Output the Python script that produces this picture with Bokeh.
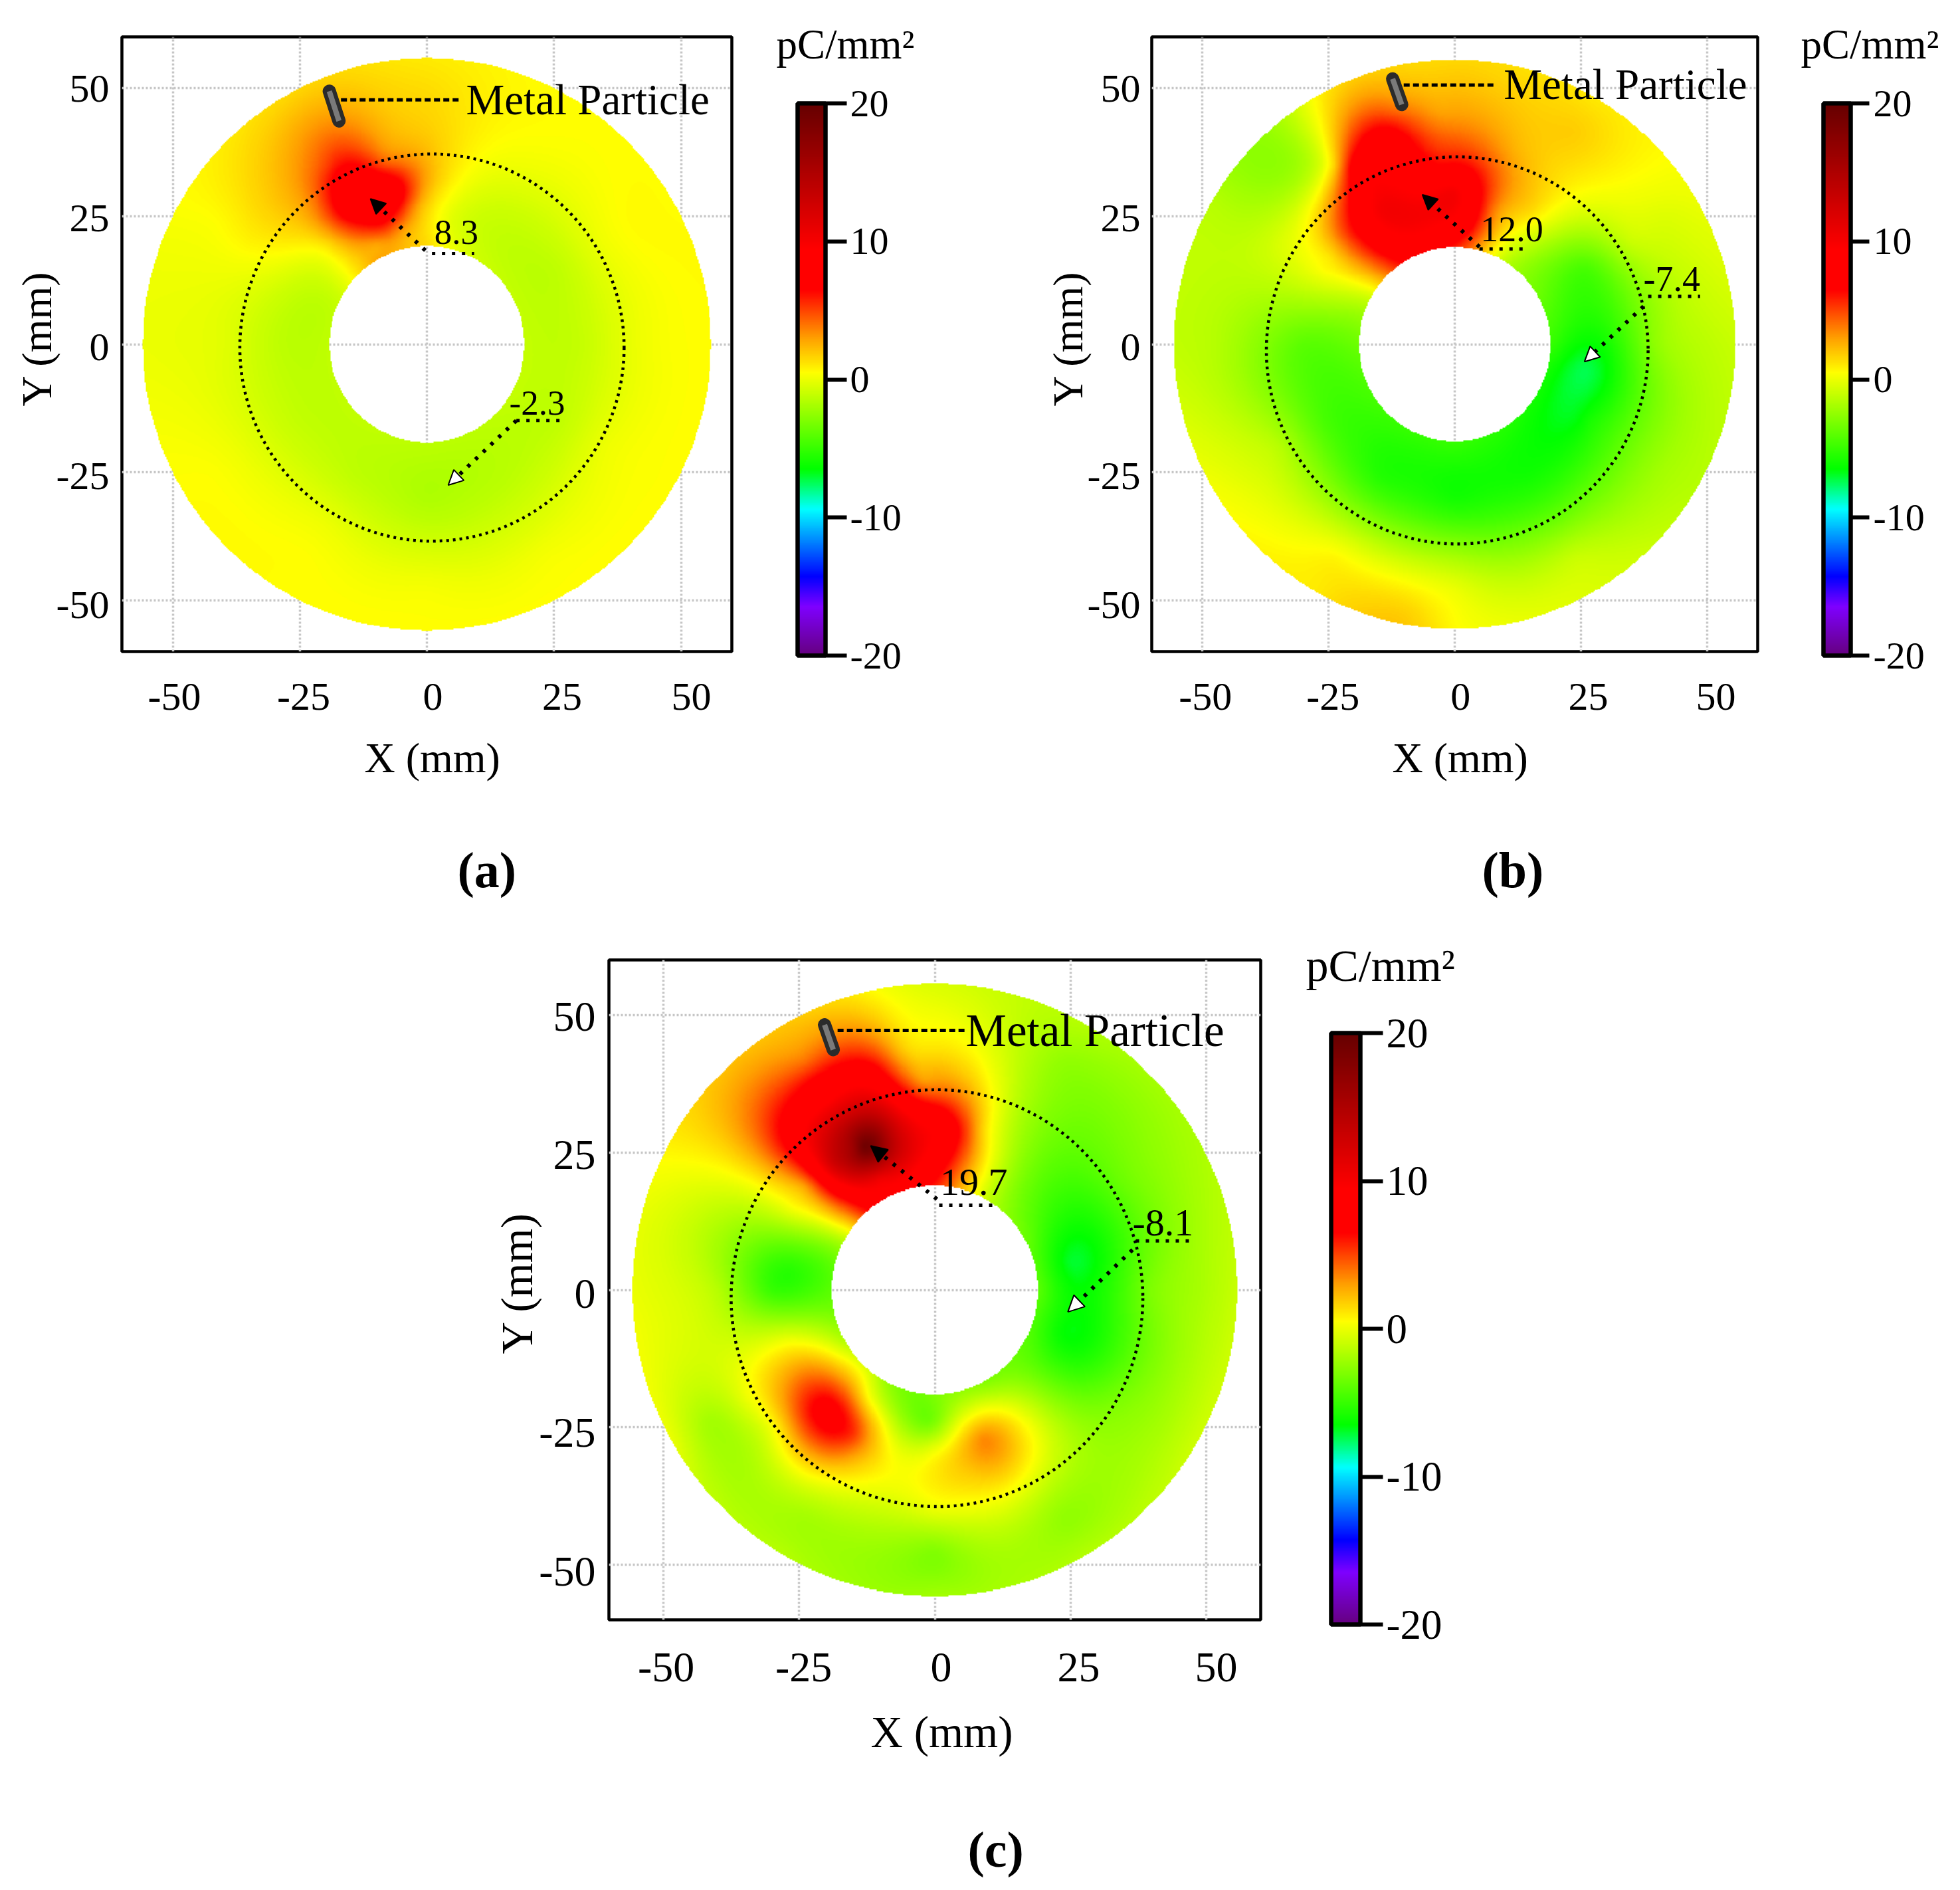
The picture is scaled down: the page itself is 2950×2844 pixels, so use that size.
import numpy as np
from bokeh.embed import file_html
from bokeh.resources import INLINE
from bokeh.layouts import column, row
from bokeh.models import (Arrow, FixedTicker, Grid, Label, LinearAxis, LinearColorMapper,
                          NormalHead, Range1d, Spacer, Title)
from bokeh.plotting import figure

FONT = "Liberation Serif"
ticks_xy = [-50, -25, 0, 25, 50]
ticks_cb = [-20, -10, 0, 10, 20]
labels_xy = {-50: "-50", -25: "-25", 0: "0", 25: "25", 50: "50"}
labels_cb = {-20: "-20", -10: "-10", 0: "0", 10: "10", 20: "20"}

# colour scale
scale_values = [-20, -16.5, -14.3, -9.4, -6.5, 0.5, 3, 6.5, 9.5, 20]
scale_r = [102, 127, 0, 0, 0, 255, 255, 255, 255, 102]
scale_g = [0, 0, 0, 255, 255, 255, 160, 0, 0, 0]
scale_b = [128, 255, 255, 255, 0, 0, 0, 0, 0, 0]

# charge density read on rings of the annulus, angles counter-clockwise from +X
ring_radii = [19, 30, 40, 48, 56]
ring_angles = [0, 30, 60, 90, 120, 150, 180, 210, 240, 270, 300, 330]

a_rings = [
    [-1.1, -1.1, -0.7, 1.5, 3.0, -0.7, -1.2, -1.2, -1.2, -1.3, -1.3, -1.1],
    [-1.1, -1.2, -0.9, 2.5, 8.0, -0.3, -1.2, -1.1, -1.2, -1.7, -1.4, -1.2],
    [-0.1, 0.1, 0.1, 2.0, 5.0, 0.8, -0.3, -0.2, 0.0, -0.6, -0.5, 0.0],
    [0.4, 0.6, 0.5, 1.5, 3.0, 0.5, -0.1, 0.4, 0.5, 0.3, 0.3, 0.4],
    [0.5, 0.5, 0.5, 1.0, 1.5, 0.5, 0.0, 0.5, 0.5, 0.5, 0.5, 0.5],
]
a_extra_x = [-12, -6, -16, -9, -15, -8, -5, -2, -22, -18, -30, -28, -20, -10, 3, 5]
a_extra_y = [28, 30, 32, 24, 23, 36, 22, 27, 28, 38, 28, 20, 19, 19, 32, 24]
a_extra_v = [8.3, 8.0, 8.0, 7.0, 5.5, 4.0, 3.0, 3.0, 4.0, 5.0, 2.0, 1.0, 1.0, 2.5, 1.5, -0.3]

b_rings = [
    [-5.0, -3.5, -1.0, 6.0, 7.0, -0.5, -3.5, -4.5, -5.0, -5.0, -5.5, -6.0],
    [-6.0, -4.5, 1.5, 10.0, 10.0, 0.7, -4.0, -4.5, -5.5, -6.0, -6.0, -6.0],
    [-2.5, -1.0, 1.5, 4.5, 7.5, -0.5, -2.5, -1.5, -2.0, -2.5, -3.5, -3.5],
    [-1.5, -0.5, 1.8, 2.5, 2.0, -1.5, -1.5, -0.5, 0.7, 0.0, -1.0, -2.0],
    [-1.0, 0.0, 1.0, 1.5, 0.5, -1.5, -1.2, 0.2, 1.0, 0.6, -0.5, -1.5],
]
b_extra_x = [-7, -13, -13, -18, -3, 4, 3, 8, -2, -24, -27, -22, -25, -12, 26, 25, -3, 12, -10]
b_extra_y = [29, 33, 40, 26, 35, 30, 24, 26, 22, 35, 30, 22, 17, 46, -5, -15, 45, 38, -53]
b_extra_v = [9.5, 9.0, 8.0, 8.5, 6.5, 7.5, 7.5, 3.5, 8.5, 1.5, 0.5, 5.0, 1.0, 4.0, -7.4, -6.5, 3.0, 2.5, 1.8]

c_rings = [
    [-4.0, -3.5, -1.0, 6.0, 9.0, -1.0, -4.0, -1.5, -2.0, -3.0, -3.0, -4.0],
    [-6.0, -5.5, -2.0, 9.0, 16.0, 0.5, -5.0, 3.0, 5.5, 0.5, 1.5, -5.0],
    [-3.0, -3.5, -2.5, 2.5, 9.0, 0.5, -1.5, 0.0, 0.5, 0.0, -0.8, -3.0],
    [-2.0, -2.5, -2.5, 0.5, 4.0, 0.8, -0.5, -2.0, -2.0, -3.0, -2.5, -2.0],
    [-1.0, -1.8, -1.5, -0.5, 2.0, 1.0, 0.0, 0.0, -1.5, -2.0, -1.5, -0.8],
]
c_extra_x = [-13, -8, -19, -15, -3, 4, 9, -12, -22, -26, -24, -10, -2, 25, 24, -27, -20, -24, -15, -27, 9, 7, -1, -12, 15, -12, -5, -30, -12]
c_extra_y = [26, 28, 23, 32, 29, 29, 29, 40, 38, 27, 19, 20, 38, 5, -8, 3, -22, -14, -30, -9, -27, -33, -24, -15, -20, 46, 44, -25, -20]
c_extra_v = [19.7, 14.0, 12.5, 13.0, 10.0, 7.0, 1.5, 7.5, 7.0, 8.0, 3.0, 10.0, 3.0, -7.0, -6.5, -5.5, 7.5, 3.0, 3.0, 0.0, 3.5, 2.0, -3.5, -0.5, -1.0, 3.5, 1.5, 0.3, 0.5]


def make_field(rings, ex, ey, ev, inner, outer, n=480):
    rr, aa = np.meshgrid(ring_radii, np.radians(ring_angles), indexing="ij")
    px = np.concatenate([(rr * np.cos(aa)).ravel(), ex])
    py = np.concatenate([(rr * np.sin(aa)).ravel(), ey])
    pv = np.concatenate([np.ravel(rings), ev])

    def kernel(d2):
        return 0.5 * d2 * np.log(np.maximum(d2, 1e-9))

    m = len(px)
    K = kernel((px[:, None] - px[None, :]) ** 2 + (py[:, None] - py[None, :]) ** 2)
    P = np.column_stack([np.ones(m), px, py])
    A = np.block([[K + 2.0 * np.eye(m), P], [P.T, np.zeros((3, 3))]])
    w = np.linalg.solve(A, np.concatenate([pv, np.zeros(3)]))
    g = np.linspace(-60, 60, n)
    out = np.zeros((n, n), dtype=np.float32)
    for i, gy in enumerate(g):
        d2 = (g[:, None] - px[None, :]) ** 2 + (gy - py[None, :]) ** 2
        out[i] = kernel(d2) @ w[:m] + w[m] + w[m + 1] * g + w[m + 2] * gy
    rad = np.hypot(*np.meshgrid(g, g))
    out[(rad < inner) | (rad > outer)] = np.nan
    return np.clip(out, -20, 20)


levels = np.linspace(-20, 20, 512)
palette = ["#%02x%02x%02x" % (int(r), int(g), int(b)) for r, g, b in zip(
    np.interp(levels, scale_values, scale_r),
    np.interp(levels, scale_values, scale_g),
    np.interp(levels, scale_values, scale_b))]
mapper = LinearColorMapper(palette=palette, low=-20, high=20, nan_color="rgba(0,0,0,0)")


def txt(p, x, y, s, size, align="left", baseline="middle"):
    p.add_layout(Label(x=x, y=y, text=s, text_font=FONT, text_font_size=f"{size}px",
                       text_align=align, text_baseline=baseline, text_color="black"))


def side_title(p, s, side, size, offset, standoff, weight="normal"):
    p.add_layout(Title(text=s, align="left", offset=offset, standoff=standoff, text_font=FONT,
                       text_font_size=f"{size}px", text_font_style=weight, text_color="black"), side)


def panel(rings, ex, ey, ev, inner, outer, borders, frame, xlab_range, ylab_range,
          xlab_standoff, ylab_standoff, fs_tick, fs_label, fs_metal, fs_val,
          circle, rod, rod_core, leader, metal_xy, hi, lo, xtitle, ytitle, tag, head):
    p = figure(frame_width=frame[0], frame_height=frame[1], min_border_left=borders[0],
               min_border_right=borders[1], min_border_top=borders[2], min_border_bottom=borders[3],
               x_range=Range1d(-60, 60), y_range=Range1d(-60, 60), x_axis_location=None,
               y_axis_location=None, output_backend="svg", toolbar_location=None,
               background_fill_color="white", border_fill_color="white", frame_align=False)
    p.grid.visible = False
    for dim in (0, 1):
        p.add_layout(Grid(dimension=dim, ticker=FixedTicker(ticks=ticks_xy), grid_line_color="#c6c6c6",
                          grid_line_width=3.5, grid_line_dash="3 3"))
    p.extra_x_ranges = {"lab": Range1d(*xlab_range)}
    p.extra_y_ranges = {"lab": Range1d(*ylab_range)}
    xa = LinearAxis(x_range_name="lab", ticker=FixedTicker(ticks=ticks_xy))
    ya = LinearAxis(y_range_name="lab", ticker=FixedTicker(ticks=ticks_xy))
    for ax, st in ((xa, xlab_standoff), (ya, ylab_standoff)):
        ax.axis_line_color = None
        ax.major_tick_line_color = None
        ax.minor_tick_line_color = None
        ax.major_label_standoff = st
        ax.major_label_overrides = labels_xy
        ax.major_label_text_font = FONT
        ax.major_label_text_font_size = f"{fs_tick}px"
        ax.major_label_text_color = "black"
    p.add_layout(xa, "below")
    p.add_layout(ya, "left")
    p.outline_line_color = "black"
    p.outline_line_width = 4.5
    p.outline_line_alpha = 1

    p.image(image=[make_field(rings, np.array(ex, float), np.array(ey, float), np.array(ev, float), inner, outer)],
            x=-60, y=-60, dw=120, dh=120, color_mapper=mapper)
    p.ellipse(x=[circle[0]], y=[circle[1]], width=[2 * circle[2]], height=[2 * circle[2]],
              fill_color=None, line_color="black", line_width=4.5, line_dash="4 6")
    p.line(rod[0], rod[1], line_color="#2b2b2b", line_width=20, line_cap="round")
    p.line(rod_core[0], rod_core[1], line_color="#7a7a7a", line_width=8)
    p.line(leader[0], leader[1], line_color="black", line_width=5, line_dash="9 5")
    txt(p, metal_xy[0], metal_xy[1], "Metal Particle", fs_metal)

    for ann, fill in ((hi, "black"), (lo, "white")):
        p.add_layout(Arrow(end=NormalHead(size=head, fill_color=fill, line_color="black", line_width=2),
                           x_start=ann["start"][0], y_start=ann["start"][1],
                           x_end=ann["tip"][0], y_end=ann["tip"][1],
                           line_color="black", line_width=6, line_dash="5 11"))
        p.line(ann["under_x"], ann["under_y"], line_color="black", line_width=5, line_dash="5 10")
        txt(p, ann["text_xy"][0], ann["text_xy"][1], ann["text"], fs_val, align="center")

    side_title(p, "X (mm)", "below", fs_label, xtitle[0], xtitle[1])
    side_title(p, " ", "below", 1, 0, tag[2])
    side_title(p, tag[0], "below", 76, tag[1], 0, weight="bold")
    side_title(p, "Y (mm)", "left", fs_label, ytitle[0], ytitle[1])
    return p


def cbar(left, right, top, bottom, bar_w, bar_h, gap, tick_out, standoff, fs, fs_title, title_off):
    pad = 4
    per_unit = bar_h / 40
    p = figure(frame_width=bar_w + 2 * pad, frame_height=bar_h + pad + gap, min_border_left=left - pad,
               min_border_right=right - pad, min_border_top=top - gap, min_border_bottom=bottom - pad,
               x_range=Range1d(-pad / bar_w, 1 + pad / bar_w),
               y_range=Range1d(-20 - pad / per_unit, 20 + gap / per_unit), x_axis_location=None,
               y_axis_location=None, output_backend="svg", toolbar_location=None,
               border_fill_color="white", outline_line_color=None, frame_align=False)
    p.grid.visible = False
    p.image(image=[levels.reshape(-1, 1).astype(np.float32)], x=0, y=-20, dw=1, dh=40, color_mapper=mapper)
    p.quad(left=[0], right=[1], bottom=[-20], top=[20], fill_color=None, line_color="black", line_width=6.5)
    ax = LinearAxis(ticker=FixedTicker(ticks=ticks_cb))
    ax.axis_line_color = None
    ax.minor_tick_line_color = None
    ax.major_tick_in = pad
    ax.major_tick_out = tick_out - pad
    ax.major_tick_line_width = 6
    ax.major_tick_line_color = "black"
    ax.major_label_standoff = standoff
    ax.major_label_overrides = labels_cb
    ax.major_label_text_font = FONT
    ax.major_label_text_font_size = f"{fs}px"
    ax.major_label_text_color = "black"
    p.add_layout(ax, "right")
    side_title(p, "pC/mm\u00b2", "above", fs_title, title_off - pad, 0)
    return p


fa = panel(a_rings, a_extra_x, a_extra_y, a_extra_v, 19.2, 56, (183, 57, 55, 398), (918, 925),
           (-60.15, 57.84), (-59.0, 60.1), 42, 13, 60, 64, 65, 53,
           (1.0, -0.65, 37.8), ([-19.2, -17.3], [49.4, 43.6]), ([-19.2, -17.3], [49.4, 43.6]),
           ([-16.9, 6.7], [47.7, 47.7]), (7.7, 47.7),
           dict(start=(-0.3, 18.3), tip=(-11.1, 28.4), under_x=[1.0, 9.3], under_y=[17.7, 17.7],
                text_xy=(5.8, 21.9), text="8.3"),
           dict(start=(17.6, -14.9), tip=(4.2, -27.5), under_x=[17.6, 26.7], under_y=[-14.9, -14.9],
                text_xy=(21.7, -11.5), text="-2.3"),
           (365, 64), (369, -18), ("(a)", 505, 54), 22)

ca = cbar(42, 166, 155, 392, 42, 831, 54, 32, 5, 58, 63, -24)

fb = panel(b_rings, b_extra_x, b_extra_y, b_extra_v, 19.0, 55.7, (325, 23, 55, 398), (912, 925),
           (-60.5, 58.2), (-59.0, 60.1), 42, 11, 60, 64, 65, 54,
           (0.5, -1.2, 37.8), ([-12.3, -10.5], [51.8, 46.8]), ([-12.3, -10.5], [51.8, 46.8]),
           ([-10.1, 8.1], [50.6, 50.6]), (9.7, 50.7),
           dict(start=(4.9, 19.0), tip=(-6.4, 29.2), under_x=[4.9, 14.0], under_y=[18.6, 18.6],
                text_xy=(11.3, 22.5), text="12.0"),
           dict(start=(37.4, 7.4), tip=(25.7, -3.4), under_x=[38.3, 48.6], under_y=[9.35, 9.35],
                text_xy=(43.0, 12.7), text="-7.4"),
           (362, 64), (369, -18), ("(b)", 497, 54), 22)

cb = cbar(76, 148, 155, 392, 41, 831, 54, 28, 6, 58, 63, -26)

fc = panel(c_rings, c_extra_x, c_extra_y, c_extra_v, 19.0, 55.8, (208, 61, 66, 392), (981, 993),
           (-60.4, 58.1), (-58.7, 60.2), 44, 14, 64, 67, 69, 58,
           (0.4, -1.5, 37.9), ([-20.3, -18.7], [48.2, 43.7]), ([-20.3, -18.7], [48.2, 43.7]),
           ([-17.9, 5.5], [47.2, 47.2]), (5.7, 47.1),
           dict(start=(0.4, 16.5), tip=(-11.8, 26.2), under_x=[0.8, 10.9], under_y=[15.4, 15.4],
                text_xy=(7.2, 19.6), text="19.7"),
           dict(start=(36.4, 7.3), tip=(24.5, -4.0), under_x=[37.0, 47.5], under_y=[8.9, 8.9],
                text_xy=(42.0, 12.2), text="-8.1"),
           (394, 68), (400, -12), ("(c)", 540, 59), 24)

cc = cbar(45, 211, 176, 385, 44, 890, 64, 34, 5, 63, 68, -30)

page = column(row(fa, ca, fb, cb), row(Spacer(width=708, height=10), fc, cc))
open("out.html", "w").write(file_html(page, INLINE))
